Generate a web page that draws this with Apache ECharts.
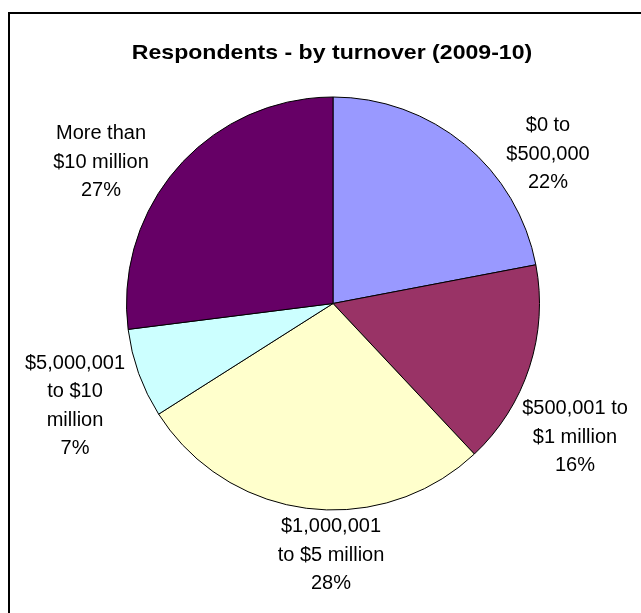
<!DOCTYPE html>
<html><head><meta charset="utf-8">
<script src="https://cdn.jsdelivr.net/npm/echarts@6/dist/echarts.min.js"></script>
<style>html,body{margin:0;padding:0;background:#fff}#c{width:641px;height:613px}</style>
</head><body><div id="c"></div>
<script>
const chartTitle = 'Respondents - by turnover (2009-10)';
const categories = ['$0 to\n$500,000', '$500,001 to\n$1 million', '$1,000,001\nto $5 million', '$5,000,001\nto $10\nmillion', 'More than\n$10 million'];
const percents = [22, 16, 28, 7, 27];
const colors = ['#9999FF', '#993366', '#FFFFCC', '#CCFFFF', '#660066'];
const labelCenters = [[548, 154], [575, 437], [331, 555], [75, 406], [101, 162]];

const chart = echarts.init(document.getElementById('c'), null, {renderer: 'canvas'});
chart.setOption({
  backgroundColor: '#fff',
  animation: false,
  graphic: [
    {type: 'rect', shape: {x: 9, y: 13, width: 800, height: 800}, style: {fill: 'none', stroke: '#000', lineWidth: 2}, z: 0},
    {type: 'text', x: 332, y: 53, scaleX: 1.1, style: {text: chartTitle, fontFamily: 'Liberation Sans', fontWeight: 'bold', fontSize: 21, fill: '#000', align: 'center', verticalAlign: 'middle'}, z: 10}
  ],
  series: [{
    type: 'pie',
    center: [333, 303.5],
    radius: 206.5,
    startAngle: 90,
    clockwise: true,
    avoidLabelOverlap: false,
    silent: true,
    data: categories.map((c, i) => ({name: c, value: percents[i], itemStyle: {color: colors[i]}})),
    itemStyle: {borderColor: '#000', borderWidth: 1},
    label: {
      show: true,
      position: 'outside',
      formatter: '{b}\n{d}%',
      fontFamily: 'Liberation Sans',
      fontSize: 20,
      lineHeight: 28.5,
      color: '#000',
      align: 'center'
    },
    labelLine: {show: false},
    labelLayout: function (p) {
      const c = labelCenters[p.dataIndex];
      return {x: c[0], y: c[1], align: 'center', verticalAlign: 'middle'};
    },
    emphasis: {disabled: true}
  }]
});
</script>
</body></html>
